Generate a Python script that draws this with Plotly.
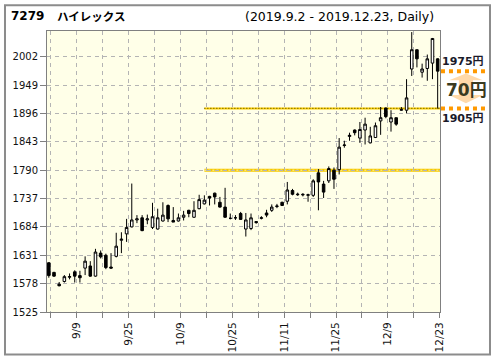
import plotly.graph_objects as go

# ---------------- data ----------------
dates = ["9/2","9/3","9/4","9/5","9/6","9/9","9/10","9/11","9/12","9/13",
         "9/17","9/18","9/19","9/20","9/24","9/25","9/26","9/27","9/30",
         "10/1","10/2","10/3","10/4","10/7","10/8","10/9","10/10","10/11",
         "10/15","10/16","10/17","10/18","10/21","10/23","10/24","10/25",
         "10/28","10/29","10/30","10/31",
         "11/1","11/5","11/6","11/7","11/8","11/11","11/12","11/13","11/14","11/15",
         "11/18","11/19","11/20","11/21","11/22","11/25","11/26","11/27","11/28","11/29",
         "12/2","12/3","12/4","12/5","12/6","12/9","12/10","12/11","12/12","12/13",
         "12/16","12/17","12/18","12/19","12/20","12/23"]

open_ = [1617,1599,1577,1582,1590,1600,1593,1607,1611,1592,
         1635,1631,1609,1629,1659,1671,1684,1697,1701,1697,
         1683,1680,1695,1724,1696,1695,1702,1715,1702,1718,
         1727,1741,1747,1730,1721,1700,1701,1709,1680,1681,
         1694,1700,1710,1715,1722,1730,1732,1752,1744,1745,
         1743,1743,1785,1764,1770,1790,1791,1836,1853,1865,
         1850,1865,1841,1851,1882,1906,1880,1888,1902,1902,
         1979,2015,1973,1980,1990,1998]
high = [1618,1600,1581,1594,1597,1603,1602,1629,1620,1643,
        1640,1634,1635,1673,1674,1699,1765,1706,1706,1707,
        1729,1718,1730,1726,1721,1709,1714,1716,1732,1744,
        1743,1742,1748,1740,1757,1709,1706,1712,1710,1709,
        1695,1704,1716,1726,1727,1731,1768,1755,1748,1747,
        1746,1773,1792,1770,1797,1795,1850,1845,1860,1866,
        1880,1888,1871,1879,1908,1907,1902,1888,1908,1960,
        2048,2015,1989,2006,2037,1999]
low = [1589,1591,1573,1580,1586,1580,1580,1594,1591,1591,
       1625,1605,1606,1627,1635,1656,1683,1691,1676,1689,
       1680,1679,1694,1693,1693,1694,1696,1702,1701,1717,
       1726,1724,1726,1720,1701,1698,1697,1697,1666,1678,
       1690,1698,1702,1712,1719,1723,1726,1743,1742,1741,
       1731,1740,1715,1738,1766,1755,1782,1832,1845,1855,
       1841,1838,1840,1850,1856,1887,1862,1873,1901,1896,
       1966,1982,1963,1957,1960,1905]
close = [1593,1592,1574,1591,1591,1592,1589,1620,1592,1637,
         1628,1608,1607,1648,1661,1683,1697,1699,1677,1699,
         1703,1701,1706,1699,1693,1701,1706,1709,1715,1735,
         1734,1738,1740,1721,1702,1700,1701,1698,1697,1701,
         1692,1701,1706,1721,1723,1724,1753,1745,1745,1744,
         1744,1770,1768,1749,1793,1773,1833,1837,1855,1860,
         1866,1876,1854,1873,1888,1890,1888,1876,1903,1925,
         2015,1998,1979,1998,2036,1975]

y_ticks = [1525, 1578, 1631, 1684, 1737, 1790, 1843, 1896, 1949, 2002]
resistance = 1905
support = 1790
level_start = "10/17"
price_hi = 1975
price_lo = 1905
code = "7279"
name = "ハイレックス"
period = "(2019.9.2 - 2019.12.23, Daily)"

# ---------------- figure ----------------
x = list(range(len(dates)))
x_min, x_max = -0.35, len(dates) - 1 + 0.45
tick_idx = [i for i in range(0, len(dates), 5)]
tick_vals = [i + 0.4 for i in tick_idx]
tick_text = [dates[i] if i % 10 == 5 else "" for i in tick_idx]

FONT = "DejaVu Sans, Noto Sans CJK JP"
GRID = "#B4B4B4"
AX = "#808080"

fig = go.Figure()
fig.add_trace(go.Candlestick(
    x=x, open=open_, high=high, low=low, close=close,
    increasing=dict(line=dict(color="black", width=1), fillcolor="white"),
    decreasing=dict(line=dict(color="black", width=1), fillcolor="black"),
    whiskerwidth=0, showlegend=False, hoverinfo="skip",
))

xs = dates.index(level_start)
shapes = [
    # support zigzag line
    dict(type="line", xref="x", yref="y", x0=xs, x1=x_max, y0=support, y1=support,
         line=dict(color="#F5C800", width=3), layer="below"),
    dict(type="line", xref="x", yref="y", x0=xs, x1=x_max, y0=support, y1=support,
         line=dict(color="#FFF6B0", width=1, dash="2px,2px"), layer="below"),
    # resistance dotted line
    dict(type="line", xref="x", yref="y", x0=xs, x1=x_max, y0=resistance, y1=resistance,
         line=dict(color="#FFD000", width=2), layer="below"),
    dict(type="line", xref="x", yref="y", x0=xs, x1=x_max, y0=resistance + 0.6, y1=resistance + 0.6,
         line=dict(color="#333300", width=1, dash="1px,2px"), layer="below"),
    # right side orange dotted lines
    dict(type="line", xref="paper", yref="y", x0=1.0025, x1=1.12, y0=price_hi, y1=price_hi,
         line=dict(color="#FF9900", width=4, dash="4px,4px")),
    dict(type="line", xref="paper", yref="y", x0=1.0025, x1=1.12, y0=price_lo, y1=price_lo,
         line=dict(color="#FF9900", width=4, dash="4px,4px")),
]
# double arrow between hi and lo
d = price_hi - price_lo
t1, t2 = price_hi - d * 0.06, price_hi - d * 0.24
b1, b2 = price_lo + d * 0.14, price_lo + d * 0.36
ax_l, ax_r, ax_c, sh_l, sh_r = 1.023, 1.109, 1.066, 1.048, 1.084
path = (f"M {ax_c},{t1} L {ax_r},{t2} L {sh_r},{t2} L {sh_r},{b2} L {ax_r},{b2} "
        f"L {ax_c},{b1} L {ax_l},{b2} L {sh_l},{b2} L {sh_l},{t2} L {ax_l},{t2} Z")
shapes.append(dict(type="path", xref="paper", yref="y", path=path,
                   fillcolor="rgba(255,160,40,0.4)", line=dict(width=0)))
# outer frame
shapes.append(dict(type="rect", xref="paper", yref="paper", x0=-0.1069, x1=1.1272,
                   y0=-0.1509, y1=1.0912, line=dict(color="#8C8C8C", width=2)))

annotations = [
    dict(xref="paper", yref="paper", x=-0.0967, y=1.0526, xanchor="left", yanchor="middle",
         text=f"<b>{code}</b>", showarrow=False, font=dict(family=FONT, size=12, color="#000")),
    dict(xref="paper", yref="paper", x=0.0203, y=1.0526, xanchor="left", yanchor="middle",
         text=f"<b>{name}</b>", showarrow=False, font=dict(family="Noto Sans CJK JP", size=11.5, color="#000")),
    dict(xref="paper", yref="paper", x=0.9898, y=1.0526, xanchor="right", yanchor="middle",
         text=period, showarrow=False, font=dict(family=FONT, size=12.5, color="#000")),
    dict(xref="paper", yref="y", x=1.0585, y=price_hi, yshift=10, xanchor="center", yanchor="middle",
         text=f"<b>{price_hi}円</b>", showarrow=False, font=dict(family=FONT, size=11, color="#1a1a2a")),
    dict(xref="paper", yref="y", x=1.0585, y=price_lo, yshift=-10, xanchor="center", yanchor="middle",
         text=f"<b>{price_lo}円</b>", showarrow=False, font=dict(family=FONT, size=11, color="#1a1a2a")),
    dict(xref="paper", yref="y", x=1.0662, y=(price_hi + price_lo) / 2, xanchor="center", yanchor="middle",
         text=f"<b>{price_hi - price_lo}円</b>", showarrow=False,
         font=dict(family=FONT, size=17, color="#3a3a20")),
]

fig.update_layout(
    width=496, height=364,
    margin=dict(l=47, r=56, t=31, b=48),
    paper_bgcolor="white", plot_bgcolor="#FFFFE8",
    font=dict(family=FONT, size=10, color="#111"),
    shapes=shapes, annotations=annotations,
    xaxis=dict(range=[x_min, x_max], tickmode="array", tickvals=tick_vals, ticktext=tick_text,
               tickangle=-90, ticks="outside", ticklen=5, tickcolor=AX,
               showgrid=True, gridcolor=GRID, griddash="4px,4px", gridwidth=1,
               showline=True, linecolor=AX, linewidth=1, mirror=True, zeroline=False,
               rangeslider=dict(visible=False), tickfont=dict(size=10.5, family=FONT, color="#111")),
    yaxis=dict(range=[1525, 2050], tickmode="array", tickvals=y_ticks,
               ticks="outside", ticklen=6, tickcolor=AX,
               showgrid=True, gridcolor=GRID, griddash="4px,4px", gridwidth=1,
               showline=True, linecolor=AX, linewidth=1, mirror=True, zeroline=False,
               tickfont=dict(size=10, family=FONT, color="#111")),
)

fig.write_html("out.html", config=dict(displayModeBar=False, staticPlot=True),
               post_script="document.body.style.margin='0';document.body.style.padding='0';")
